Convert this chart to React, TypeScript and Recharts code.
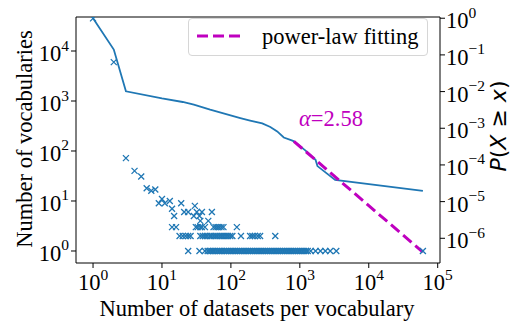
import { ComposedChart, Scatter, Line, XAxis, YAxis, ReferenceLine, Label } from "recharts";

// vocabulary counts per "number of datasets" value
const upperX = [1, 2, 3, 4, 5, 6, 7, 8, 9, 10, 11, 13, 14, 15, 19, 21, 24, 29, 30, 32, 35, 36, 38, 47, 53];
const upperY = [45000, 6000, 72, 40, 31, 18, 16, 17, 9, 11, 9, 10, 7, 5, 9, 6, 6, 5, 8, 6, 5, 4, 6, 4, 6];
const threeX = [14, 16, 31, 33, 36, 38, 42, 56, 60, 64, 68, 73, 78, 122];
const twoX = [18, 20, 22, 24, 26, 36, 39, 42, 45, 49, 52, 56, 60, 64, 69, 74, 79, 85, 91, 98, 105, 140, 190, 205, 222, 245, 265, 440];
const oneX = [
  24, 35, 42, 46, 49, 52, 55, 58, 62, 66, 70, 74, 79, 84, 89, 95, 101, 107, 114, 121, 129, 137, 146, 155,
  165, 176, 187, 199, 212, 226, 240, 256, 272, 290, 309, 329, 350, 373, 397, 423, 450, 479, 510, 543, 578,
  615, 655, 697, 742, 790, 841, 895, 953, 1015, 1080, 1150, 1224, 1303, 1440, 1690, 1990, 2345, 2760, 3380, 61000,
];

// complementary cumulative distribution P(X >= x)
const ccdfX = [1, 2, 3, 10, 20, 29, 50, 137, 190, 285, 373, 470, 585, 780, 820, 1200, 1690, 1800, 3250, 61000];
const ccdfP = [
  1, 0.14, 0.0102, 0.0065, 0.0052, 0.0044, 0.0032, 0.0019, 0.00162, 0.00135, 0.00108, 0.00082, 0.00056,
  0.00046, 0.00044, 0.00025, 0.000138, 0.000093, 0.000039, 0.0000195,
];

// power-law fit, alpha = 2.58
const fitX = [820, 61000];
const fitP = [0.00044, 0.00000042];

const xTicks = [1, 10, 100, 1000, 10000, 100000];
const leftTicks = [1, 10, 100, 1000, 10000];
const rightTicks = [1e-6, 1e-5, 1e-4, 1e-3, 1e-2, 1e-1, 1];

const scatterData = [
  ...upperX.map((x, i) => ({ x, y: upperY[i] })),
  ...threeX.map((x) => ({ x, y: 3 })),
  ...twoX.map((x) => ({ x, y: 2 })),
  ...oneX.map((x) => ({ x, y: 1 })),
];
const ccdfData = ccdfX.map((x, i) => ({ x, p: ccdfP[i] }));
const fitData = fitX.map((x, i) => ({ x, p: fitP[i] }));

const BLUE = "#1f77b4";
const MAGENTA = "#bf00bf";
const SERIF = "'Liberation Serif', 'Times New Roman', serif";
const FS = 22.5;
const SUP_FS = 15.5;

const expText = (v: number) => {
  const e = Math.round(Math.log10(v));
  return e < 0 ? `\u2212${-e}` : `${e}`;
};

const Cross = (props: any) => {
  const { cx, cy } = props;
  if (cx == null || cy == null) return null;
  const s = 3;
  return (
    <path
      d={`M${cx - s},${cy - s}L${cx + s},${cy + s}M${cx - s},${cy + s}L${cx + s},${cy - s}`}
      stroke={BLUE}
      strokeWidth={1.3}
      fill="none"
    />
  );
};

const Pow = ({ x, y, anchor, value }: any) => (
  <text x={x} y={y} textAnchor={anchor} fill="#000" style={{ fontFamily: SERIF, fontSize: FS }}>
    <tspan style={{ fontSize: FS }}>10</tspan>
    <tspan dy={-10.5} style={{ fontSize: SUP_FS }}>
      {expText(value)}
    </tspan>
  </text>
);

const XTick = ({ x, y, payload }: any) => <Pow x={x} y={y + 20} anchor="middle" value={payload.value} />;
const LeftTick = ({ x, y, payload }: any) => <Pow x={x} y={y + 10} anchor="end" value={payload.value} />;
const RightTick = ({ x, y, payload }: any) => <Pow x={x - 1} y={y + 10} anchor="start" value={payload.value} />;

export default function App() {
  return (
    <div style={{ position: "absolute", left: 0, top: 0, width: 510, height: 324, background: "#fff" }}>
      <ComposedChart width={510} height={324} margin={{ top: 17, right: 0, bottom: 0, left: 0 }}>
        <XAxis
          dataKey="x"
          type="number"
          scale="log"
          domain={[0.566, 108000]}
          allowDataOverflow
          ticks={xTicks}
          tick={XTick}
          tickSize={5}
          height={61}
          axisLine={{ stroke: "#000" }}
          tickLine={{ stroke: "#000" }}
        >
          <Label
            content={() => (
              <text x={257} y={316} textAnchor="middle" style={{ fontFamily: SERIF, fontSize: FS }} fill="#000">
                Number of datasets per vocabulary
              </text>
            )}
          />
        </XAxis>
        <YAxis
          yAxisId="left"
          dataKey="y"
          type="number"
          scale="log"
          domain={[0.575, 47900]}
          allowDataOverflow
          ticks={leftTicks}
          tick={LeftTick}
          tickSize={5}
          width={76}
          axisLine={{ stroke: "#000" }}
          tickLine={{ stroke: "#000" }}
        >
          <Label
            content={() => (
              <text
                x={32}
                y={139}
                transform="rotate(-90, 32, 139)"
                textAnchor="middle"
                style={{ fontFamily: SERIF, fontSize: FS }}
                fill="#000"
              >
                Number of vocabularies
              </text>
            )}
          />
        </YAxis>
        <YAxis
          yAxisId="right"
          orientation="right"
          dataKey="p"
          type="number"
          scale="log"
          domain={[2.12e-7, 1.08]}
          allowDataOverflow
          ticks={rightTicks}
          tick={RightTick}
          tickSize={5}
          width={70}
          axisLine={{ stroke: "#000" }}
          tickLine={{ stroke: "#000" }}
        >
          <Label
            content={() => (
              <text
                x={506}
                y={126}
                transform="rotate(-90, 506, 126)"
                textAnchor="middle"
                style={{ fontFamily: "'DejaVu Sans', sans-serif", fontSize: 22 }}
                fill="#000"
              >
                <tspan fontStyle="italic">P</tspan>(<tspan fontStyle="italic">X</tspan> ≥ <tspan fontStyle="italic">x</tspan>)
              </text>
            )}
          />
        </YAxis>
        <ReferenceLine yAxisId="left" y={47900} stroke="#000" ifOverflow="extendDomain" />
        <Scatter yAxisId="left" data={scatterData} dataKey="y" shape={Cross} isAnimationActive={false} />
        <Line
          yAxisId="right"
          data={ccdfData}
          dataKey="p"
          type="linear"
          stroke={BLUE}
          strokeWidth={1.8}
          dot={false}
          isAnimationActive={false}
        />
        <Line
          yAxisId="right"
          data={fitData}
          dataKey="p"
          type="linear"
          stroke={MAGENTA}
          strokeWidth={3}
          strokeDasharray="11 5"
          dot={false}
          isAnimationActive={false}
        />
      </ComposedChart>
      <div
        style={{
          position: "absolute",
          left: 299,
          top: 105,
          color: MAGENTA,
          fontFamily: SERIF,
          fontSize: FS,
          lineHeight: "28px",
          whiteSpace: "nowrap",
        }}
      >
        <span style={{ fontStyle: "italic" }}>α</span>=2.58
      </div>
      <div
        style={{
          position: "absolute",
          left: 188,
          top: 18,
          width: 240,
          height: 38,
          boxSizing: "border-box",
          border: "1px solid #d6d6d6",
          borderRadius: 4,
          background: "rgba(255,255,255,0.8)",
          fontFamily: SERIF,
          fontSize: FS,
        }}
      >
        <svg width={48} height={10} style={{ position: "absolute", left: 8, top: 12 }}>
          <line x1={0} y1={5} x2={46} y2={5} stroke={MAGENTA} strokeWidth={3} strokeDasharray="11 5" />
        </svg>
        <span style={{ position: "absolute", left: 73, top: 4, lineHeight: "28px", whiteSpace: "nowrap" }}>
          power-law fitting
        </span>
      </div>
    </div>
  );
}
